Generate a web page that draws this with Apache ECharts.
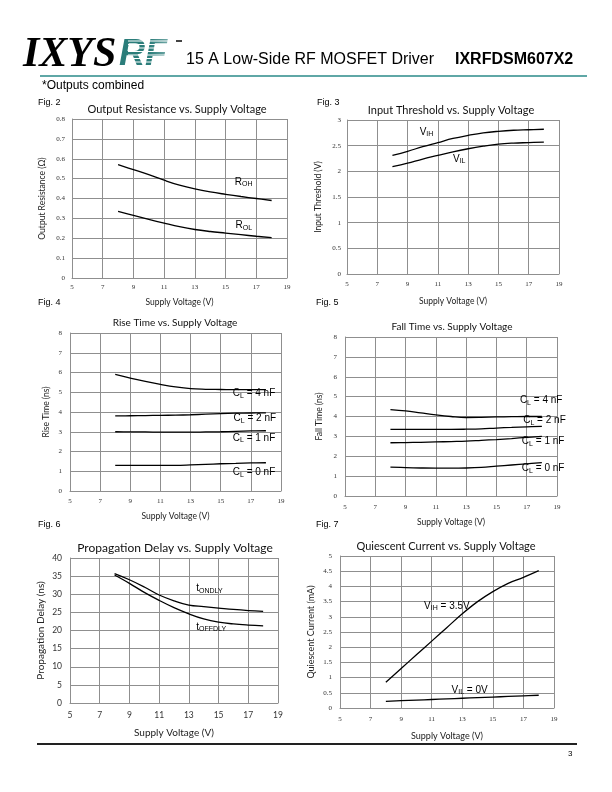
<!DOCTYPE html>
<html>
<head>
<meta charset="utf-8">
<script src="https://cdn.jsdelivr.net/npm/echarts@6/dist/echarts.min.js"></script>
<style>
html,body{margin:0;padding:0;background:#fff;}
#c{width:612px;height:792px;}
</style>
</head>
<body>
<div id="c"></div>
<script>
// ---------- data ----------
const supplyV = [8, 9, 10, 11, 12, 13, 14, 15, 16, 17, 18];
const xTicks = [5, 7, 9, 11, 13, 15, 17, 19];

// Fig 2 output resistance (ohm)
const rOH = [0.57, 0.545, 0.52, 0.492, 0.467, 0.448, 0.433, 0.421, 0.41, 0.4, 0.39];
const rOL = [0.335, 0.315, 0.295, 0.276, 0.258, 0.244, 0.234, 0.226, 0.218, 0.21, 0.203];
// Fig 3 input threshold (V)
const vIH = [2.31, 2.39, 2.48, 2.56, 2.64, 2.70, 2.75, 2.78, 2.80, 2.81, 2.82];
const vIL = [2.09, 2.16, 2.24, 2.31, 2.38, 2.44, 2.49, 2.53, 2.55, 2.56, 2.57];
// Fig 4 rise time (ns)
const riseCL4 = [5.9, 5.72, 5.55, 5.4, 5.27, 5.18, 5.15, 5.14, 5.13, 5.13, 5.13];
const riseCL2 = [3.8, 3.81, 3.82, 3.83, 3.84, 3.86, 3.89, 3.92, 3.94, 3.95, 3.96];
const riseCL1 = [3.0, 2.99, 2.99, 2.98, 2.98, 2.98, 2.99, 3.0, 3.02, 3.04, 3.05];
const riseCL0 = [1.3, 1.3, 1.3, 1.3, 1.3, 1.32, 1.35, 1.38, 1.4, 1.42, 1.43];
// Fig 5 fall time (ns)
const fallCL4 = [4.35, 4.28, 4.18, 4.08, 4.0, 3.95, 3.96, 3.98, 3.99, 4.0, 4.0];
const fallCL2 = [3.35, 3.35, 3.35, 3.35, 3.35, 3.36, 3.38, 3.42, 3.45, 3.48, 3.5];
const fallCL1 = [2.68, 2.69, 2.7, 2.72, 2.74, 2.76, 2.8, 2.84, 2.89, 2.95, 3.0];
const fallCL0 = [1.45, 1.43, 1.41, 1.4, 1.4, 1.41, 1.44, 1.5, 1.56, 1.62, 1.68];
// Fig 6 propagation delay (ns)
const tOnDly = [35.7, 34.0, 32.0, 29.8, 28.2, 27.0, 26.6, 26.2, 25.8, 25.5, 25.3];
const tOffDly = [35.3, 33.0, 30.5, 28.3, 26.3, 24.6, 23.2, 22.3, 21.8, 21.5, 21.3];
// Fig 7 quiescent current (mA)
const iqVIH = [0.85, 1.3, 1.75, 2.2, 2.65, 3.1, 3.5, 3.83, 4.1, 4.3, 4.52];
const iqVIL = [0.22, 0.24, 0.26, 0.28, 0.3, 0.32, 0.34, 0.36, 0.38, 0.4, 0.42];

// curve labels: [text rich, x, y] in data units
const labelsFig2 = [['{b|R}{s|OH}', 15.6, 0.484], ['{b|R}{s|OL}', 15.65, 0.264]];
const labelsFig3 = [['{b|V}{s|IH}', 9.8, 2.77], ['{b|V}{s|IL}', 12.0, 2.24]];
const labelsFig4 = [['{b|C}{s|L}{b| = 4 nF}', 15.8, 4.95], ['{b|C}{s|L}{b| = 2 nF}', 15.85, 3.69], ['{b|C}{s|L}{b| = 1 nF}', 15.8, 2.69], ['{b|C}{s|L}{b| = 0 nF}', 15.8, 0.93]];
const labelsFig5 = [['{b|C}{s|L}{b| = 4 nF}', 16.55, 4.8], ['{b|C}{s|L}{b| = 2 nF}', 16.77, 3.79], ['{b|C}{s|L}{b| = 1 nF}', 16.68, 2.75], ['{b|C}{s|L}{b| = 0 nF}', 16.68, 1.385]];
const labelsFig6 = [['{b|t}{s|ONDLY}', 13.5, 31.6], ['{b|t}{s|OFFDLY}', 13.5, 21.0]];
const labelsFig7 = [['{b|V}{s|IH}{b| = 3.5V}', 10.5, 3.36], ['{b|V}{s|IL}{b| = 0V}', 12.3, 0.6]];

// ---------- layout ----------
const figs = [
  {fig: 'Fig. 2', figX: 38, figY: 103, title: 'Output Resistance vs. Supply Voltage', tX: 177, tY: 109, tSize: 11,
   left: 72, top: 119, width: 215, height: 159, yMax: 0.8, yInt: 0.1, yName: 'Output Resistance (\u03A9)',
   series: [rOH, rOL], labels: labelsFig2, tickFont: 'Liberation Serif', tickSize: 7, nameSize: 8.5, xGap: 20, yGap: 25, xMargin: 6, yMargin: 7},
  {fig: 'Fig. 3', figX: 317, figY: 103, title: 'Input Threshold vs. Supply Voltage', tX: 451, tY: 110, tSize: 11,
   left: 347, top: 120, width: 212, height: 154, yMax: 3, yInt: 0.5, yName: 'Input Threshold (V)',
   series: [vIH, vIL], labels: labelsFig3, tickFont: 'Liberation Serif', tickSize: 7, nameSize: 8.5, xGap: 23, yGap: 24, xMargin: 7, yMargin: 6},
  {fig: 'Fig. 4', figX: 38, figY: 303, title: 'Rise Time vs. Supply Voltage', tX: 175, tY: 323, tSize: 10,
   left: 70, top: 333, width: 211, height: 158, yMax: 8, yInt: 1, yName: 'Rise Time (ns)',
   series: [riseCL4, riseCL2, riseCL1, riseCL0], labels: labelsFig4, tickFont: 'Liberation Serif', tickSize: 7, nameSize: 8.5, xGap: 21, yGap: 19, xMargin: 7, yMargin: 8},
  {fig: 'Fig. 5', figX: 316, figY: 303, title: 'Fall Time vs. Supply Voltage', tX: 452, tY: 327, tSize: 10,
   left: 345, top: 337, width: 212, height: 159, yMax: 8, yInt: 1, yName: 'Fall Time (ns)',
   series: [fallCL4, fallCL2, fallCL1, fallCL0], labels: labelsFig5, tickFont: 'Liberation Serif', tickSize: 7, nameSize: 8.5, xGap: 22, yGap: 21, xMargin: 8, yMargin: 8},
  {fig: 'Fig. 6', figX: 38, figY: 525, title: 'Propagation Delay vs. Supply Voltage', tX: 175, tY: 548, tSize: 12,
   left: 70, top: 558, width: 208, height: 145, yMax: 40, yInt: 5, yName: 'Propagation Delay (ns)',
   series: [tOnDly, tOffDly], labels: labelsFig6, tickFont: 'Lato', tickSize: 8.5, nameSize: 10, xGap: 25, yGap: 24, xMargin: 8, yMargin: 8},
  {fig: 'Fig. 7', figX: 316, figY: 525, title: 'Quiescent Current vs. Supply Voltage', tX: 446, tY: 546, tSize: 11,
   left: 340, top: 556, width: 214, height: 152, yMax: 5, yInt: 0.5, yName: 'Quiescent Current (mA)',
   series: [iqVIH, iqVIL], labels: labelsFig7, tickFont: 'Liberation Serif', tickSize: 7, nameSize: 9, xGap: 24, yGap: 24, xMargin: 8, yMargin: 8}
];

const gridColor = '#8f8f8f';
const grids = [], xAxes = [], yAxes = [], series = [], graphics = [];

figs.forEach((f, i) => {
  grids.push({left: f.left, top: f.top, width: f.width, height: f.height, containLabel: false});
  xAxes.push({
    type: 'value', gridIndex: i, min: 5, max: 19, interval: 2,
    name: 'Supply Voltage (V)', nameLocation: 'middle', nameGap: f.xGap,
    nameTextStyle: {fontFamily: 'Lato', fontSize: f.nameSize, color: '#222'},
    axisLine: {show: true, lineStyle: {color: gridColor, width: 1}},
    axisTick: {show: false},
    axisLabel: {fontFamily: f.tickFont, fontSize: f.tickSize, color: '#333', margin: f.xMargin},
    splitLine: {show: true, lineStyle: {color: gridColor, width: 1}}
  });
  yAxes.push({
    type: 'value', gridIndex: i, min: 0, max: f.yMax, interval: f.yInt,
    name: f.yName, nameLocation: 'middle', nameGap: f.yGap,
    nameTextStyle: {fontFamily: 'Lato', fontSize: f.nameSize, color: '#222'},
    axisLine: {show: true, lineStyle: {color: gridColor, width: 1}},
    axisTick: {show: false},
    axisLabel: {fontFamily: f.tickFont, fontSize: f.tickSize, color: '#333', margin: f.yMargin},
    splitLine: {show: true, lineStyle: {color: gridColor, width: 1}}
  });
  f.series.forEach((vals, k) => {
    const s = {
      type: 'line', xAxisIndex: i, yAxisIndex: i, smooth: 0.4, showSymbol: false, silent: true,
      lineStyle: {color: '#000', width: 1.3},
      data: supplyV.map((v, j) => [v, vals[j]])
    };
    if (k === 0) {
      s.markPoint = {
        symbol: 'circle', symbolSize: 0, silent: true,
        label: {
          show: true, position: 'right', distance: 0,
          formatter: p => p.name,
          rich: {
            b: {fontFamily: 'Liberation Sans', fontSize: 10, color: '#000', lineHeight: 14},
            s: {fontFamily: 'Liberation Sans', fontSize: 7, color: '#000', lineHeight: 14, padding: [5, 0, 0, 0]}
          }
        },
        data: f.labels.map(l => ({name: l[0], coord: [l[1], l[2]]}))
      };
    }
    series.push(s);
  });
  graphics.push({type: 'text', left: f.figX, top: f.figY - 5,
    style: {text: f.fig, font: '9px "Liberation Sans"', fill: '#000'}});
  graphics.push({type: 'text', x: f.tX, y: f.tY,
    style: {text: f.title, font: f.tSize + 'px Lato', fill: '#111', textAlign: 'center', textVerticalAlign: 'middle'}});
});

// header
graphics.push({type: 'text', x: 23, y: 34,
  style: {text: 'IXYS', font: 'italic bold 42px "Liberation Serif"', fill: '#000'}});
graphics.push({type: 'text', x: 119, y: 37,
  style: {text: 'RF', font: 'italic 900 36px "Liberation Sans"', fill: '#2b7d7a'}});
graphics.push({type: 'rect', shape: {x: 150, y: 38, width: 40, height: 30},
  style: {fill: {type: 'linear', x: 0, y: 0, x2: 1, y2: 0, colorStops: [{offset: 0, color: 'rgba(255,255,255,0)'}, {offset: 1, color: 'rgba(255,255,255,0.75)'}]}}});
for (let k = 0; k < 8; k++) {
  graphics.push({type: 'rect', shape: {x: 128, y: 40.5 + k * 3.5, width: 60, height: 1}, style: {fill: '#fff'}});
}
graphics.push({type: 'rect', shape: {x: 176, y: 40, width: 6, height: 2}, style: {fill: '#444'}});
graphics.push({type: 'text', x: 186, y: 52,
  style: {text: '15 A Low-Side RF MOSFET Driver', font: '16px "Liberation Sans"', fill: '#000'}});
graphics.push({type: 'text', x: 455, y: 52,
  style: {text: 'IXRFDSM607X2', font: 'bold 16px "Liberation Sans"', fill: '#000'}});
graphics.push({type: 'line', shape: {x1: 40, y1: 76, x2: 587, y2: 76}, style: {stroke: '#2a8a88', lineWidth: 1.5}});
graphics.push({type: 'text', x: 42, y: 80,
  style: {text: '*Outputs combined', font: '12px "Liberation Sans"', fill: '#000'}});
// footer
graphics.push({type: 'line', shape: {x1: 37, y1: 744, x2: 577, y2: 744}, style: {stroke: '#222', lineWidth: 2}});
graphics.push({type: 'text', x: 568, y: 750,
  style: {text: '3', font: '8px "Liberation Sans"', fill: '#000'}});

const chart = echarts.init(document.getElementById('c'), null, {renderer: 'canvas'});
chart.setOption({
  backgroundColor: '#fff',
  animation: false,
  grid: grids, xAxis: xAxes, yAxis: yAxes, series: series,
  graphic: graphics
});
</script>
</body>
</html>
